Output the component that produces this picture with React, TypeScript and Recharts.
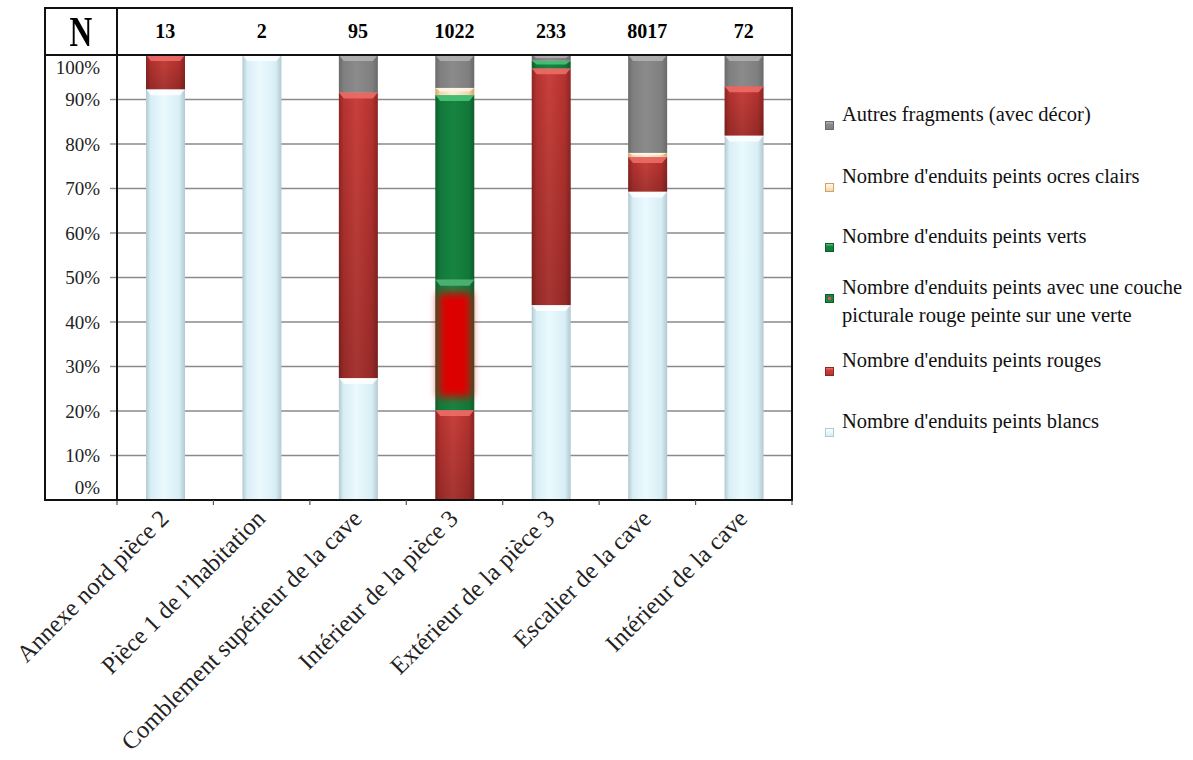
import React from 'react';
import { BarChart, Bar, XAxis, YAxis, CartesianGrid } from 'recharts';

const categories = [
  'Annexe nord pièce 2',
  'Pièce 1 de l’habitation',
  'Comblement supérieur de la cave',
  'Intérieur de la pièce 3',
  'Extérieur de la pièce 3',
  'Escalier de la cave',
  'Intérieur de la cave',
];
const nValues = [13, 2, 95, 1022, 233, 8017, 72];

// shares in % (bottom to top of each bar)
const blancs = [92.3, 100, 27.4, 0, 43.8, 69.3, 81.9];
const rouges = [7.7, 0, 64.2, 20.2, 53.2, 7.8, 11.1];
const rougeSurVert = [0, 0, 0, 29.3, 0, 0, 0];
const verts = [0, 0, 0, 41.5, 1.7, 0, 0];
const ocres = [0, 0, 0, 1.6, 0, 0.9, 0];
const autres = [0, 0, 8.4, 7.4, 1.3, 22.0, 7.0];

const yTicks = [0, 10, 20, 30, 40, 50, 60, 70, 80, 90, 100];

const seriesKeys = ['blancs', 'rouges', 'rougeSurVert', 'verts', 'ocres', 'autres'];
const seriesNames: Record<string, string> = {
  autres: 'Autres fragments (avec décor)',
  ocres: "Nombre d'enduits peints ocres clairs",
  verts: "Nombre d'enduits peints verts",
  rougeSurVert: "Nombre d'enduits peints avec une couche\npicturale rouge peinte sur une verte",
  rouges: "Nombre d'enduits peints rouges",
  blancs: "Nombre d'enduits peints blancs",
};

const data = categories.map((name, i) => ({
  name,
  n: String(nValues[i]),
  blancs: blancs[i],
  rouges: rouges[i],
  rougeSurVert: rougeSurVert[i],
  verts: verts[i],
  ocres: ocres[i],
  autres: autres[i],
}));

// colours: edge, mid, light, bevel
const tones: Record<string, { edge: string; mid: string; light: string; bevel: string }> = {
  blancs: { edge: '#b3c9d1', mid: '#d8eef5', light: '#eafafe', bevel: '#ffffff' },
  rouges: { edge: '#8c2624', mid: '#b5322f', light: '#c8403c', bevel: '#f0706a' },
  rougeSurVert: { edge: '#0c5f2b', mid: '#12783a', light: '#178541', bevel: '#54b97a' },
  verts: { edge: '#0c5f2b', mid: '#12783a', light: '#178541', bevel: '#4cc77a' },
  ocres: { edge: '#d4a266', mid: '#f0d6ae', light: '#fbefd6', bevel: '#fff6e6' },
  autres: { edge: '#6a6a6a', mid: '#7f7f7f', light: '#8b8b8b', bevel: '#b4b4b4' },
};

const FONT = '"Times New Roman", Tinos, "Liberation Serif", "DejaVu Serif", serif';
const BAND = (792 - 117) / categories.length;

function makeShape(key: string) {
  return (props: any) => {
    const { x, y, width, height } = props;
    if (!height || height <= 0) return <g />;
    const t = tones[key];
    const bev = Math.min(6, height / 2);
    return (
      <g>
        <rect x={x} y={y} width={width} height={height} fill={`url(#g-${key})`} />
        {key === 'rouges' && (
          <rect x={x} y={y} width={width} height={height} fill="url(#shadeV)" />
        )}
        {key === 'rougeSurVert' && (
          <rect
            x={x + 3}
            y={y + height * 0.1}
            width={width - 6}
            height={height * 0.8}
            fill="#dd0000"
            filter="url(#blurRed)"
          />
        )}
        <polygon
          points={`${x},${y} ${x + width},${y} ${x + width - 5},${y + bev} ${x + 5},${y + bev}`}
          fill={t.bevel}
          opacity={0.85}
        />
      </g>
    );
  };
}

const YTick = (props: any) => {
  const { x, y, payload } = props;
  let shift = 0;
  if (payload.value === 100) shift = 12;
  if (payload.value === 0) shift = -13;
  return (
    <text x={x - 8} y={y + shift} dy="0.35em" textAnchor="end" fontFamily={FONT} fontSize={19} fill="#222">
      {payload.value}%
    </text>
  );
};

const BottomTick = (props: any) => {
  const { x, y, payload, index } = props;
  return (
    <g>
      <line x1={x - BAND / 2} x2={x - BAND / 2} y1={y - 8} y2={y - 3} stroke="#555" strokeWidth={1.2} />
      {index === categories.length - 1 && (
        <line x1={x + BAND / 2} x2={x + BAND / 2} y1={y - 8} y2={y - 3} stroke="#555" strokeWidth={1.2} />
      )}
      <g transform={`translate(${x + 5},${y + 12})`}>
        <text x={0} y={0} textAnchor="end" transform="rotate(-45)" fontFamily={FONT} fontSize={24.5} fill="#222">
          {payload.value}
        </text>
      </g>
    </g>
  );
};

const TopTick = (props: any) => {
  const { x, y, payload } = props;
  return (
    <text x={x} y={y - 16} dy="0.35em" textAnchor="middle" fontFamily={FONT} fontWeight="bold" fontSize={20} fill="#000">
      {payload.value}
    </text>
  );
};

const legendOrder = ['autres', 'ocres', 'verts', 'rougeSurVert', 'rouges', 'blancs'];
const legendTops = [100, 162, 222, 273, 346, 407];

function Marker({ k }: { k: string }) {
  const t = tones[k];
  if (k === 'rougeSurVert') {
    return (
      <span style={{ display: 'inline-block', width: 9, height: 9, background: '#178541', border: '1px solid #0c5f2b', boxSizing: 'border-box', position: 'relative' }}>
        <span style={{ position: 'absolute', left: 2, top: 2, width: 3, height: 3, background: '#e05050' }} />
      </span>
    );
  }
  return (
    <span
      style={{
        display: 'inline-block',
        width: 9,
        height: 9,
        boxSizing: 'border-box',
        border: `1px solid ${t.edge}`,
        background: `linear-gradient(180deg, ${t.bevel} 0%, ${t.light} 35%, ${t.mid} 100%)`,
      }}
    />
  );
}

const line = (style: React.CSSProperties) => (
  <div style={{ position: 'absolute', background: '#111', pointerEvents: 'none', ...style }} />
);

export default function App() {
  return (
    <div style={{ position: 'absolute', left: 0, top: 0, width: 1193, height: 760, background: '#fff', fontFamily: FONT }}>
      <BarChart
        width={1193}
        height={760}
        data={data}
        margin={{ top: 8, right: 401, bottom: 10, left: 45 }}
        barSize={39}
        style={{ fontFamily: FONT }}
      >
        <defs>
          {seriesKeys.map((k) => (
            <linearGradient key={k} id={`g-${k}`} x1="0" y1="0" x2="1" y2="0">
              <stop offset="0%" stopColor={tones[k].edge} />
              <stop offset="12%" stopColor={tones[k].mid} />
              <stop offset="45%" stopColor={tones[k].light} />
              <stop offset="85%" stopColor={tones[k].mid} />
              <stop offset="100%" stopColor={tones[k].edge} />
            </linearGradient>
          ))}
          <linearGradient id="shadeV" x1="0" y1="0" x2="0" y2="1">
            <stop offset="0%" stopColor="#000" stopOpacity={0} />
            <stop offset="100%" stopColor="#000" stopOpacity={0.18} />
          </linearGradient>
          <filter id="blurRed" x="-30%" y="-30%" width="160%" height="160%">
            <feGaussianBlur stdDeviation="4.5" />
          </filter>
        </defs>
        <CartesianGrid vertical={false} stroke="#8a8a8a" strokeWidth={1.4} />
        <XAxis
          xAxisId="top"
          orientation="top"
          dataKey="n"
          height={47}
          axisLine={false}
          tickLine={false}
          interval={0}
          tick={<TopTick />}
        />
        <XAxis
          dataKey="name"
          height={250}
          interval={0}
          axisLine={{ stroke: '#111', strokeWidth: 2 }}
          tickLine={false}
          tick={<BottomTick />}
        />
        <YAxis
          type="number"
          domain={[0, 100]}
          ticks={yTicks}
          width={72}
          axisLine={{ stroke: '#111', strokeWidth: 2 }}
          tickLine={{ stroke: '#8a8a8a', strokeWidth: 1.4 }}
          tickSize={7}
          tick={<YTick />}
        />
        {seriesKeys.map((k) => (
          <Bar key={k} dataKey={k} stackId="a" name={seriesNames[k]} fill={tones[k].mid} shape={makeShape(k)} isAnimationActive={false} />
        ))}
      </BarChart>

      {/* table frame around the header row and the y labels */}
      {line({ left: 45, top: 7, width: 748, height: 2 })}
      {line({ left: 45, top: 54, width: 748, height: 2 })}
      {line({ left: 44, top: 7, width: 2, height: 494 })}
      {line({ left: 116, top: 7, width: 2, height: 494 })}
      {line({ left: 791, top: 7, width: 2, height: 494 })}
      {line({ left: 45, top: 499, width: 73, height: 2 })}
      <div
        style={{
          position: 'absolute',
          left: 45,
          top: 8,
          width: 72,
          height: 47,
          display: 'flex',
          alignItems: 'center',
          justifyContent: 'center',
          fontSize: 42,
          fontWeight: 'bold',
          transform: 'scaleX(0.75)',
          lineHeight: 1,
        }}
      >
        N
      </div>

      {legendOrder.map((k, i) => (
        <div
          key={k}
          style={{
            position: 'absolute',
            left: 825,
            top: legendTops[i],
            width: 368,
            display: 'flex',
            alignItems: 'flex-start',
            fontSize: 20.5,
            lineHeight: '28px',
            color: '#111',
          }}
        >
          <span style={{ width: 17, flex: 'none', paddingTop: 9 }}>
            <Marker k={k} />
          </span>
          <span style={{ whiteSpace: 'pre-line' }}>{seriesNames[k]}</span>
        </div>
      ))}
    </div>
  );
}
